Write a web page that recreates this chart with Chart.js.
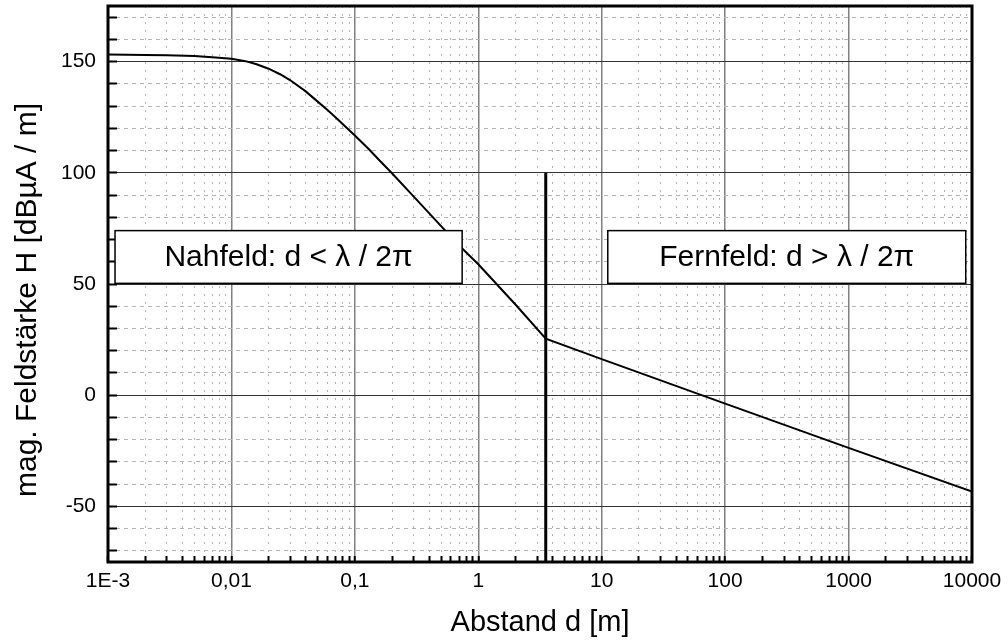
<!DOCTYPE html>
<html>
<head>
<meta charset="utf-8">
<script src="https://cdn.jsdelivr.net/npm/chart.js@4/dist/chart.umd.min.js"></script>
<style>
  body { margin: 0; background: #fff; }
  canvas { display: block; }
</style>
</head>
<body>
<canvas id="chart" width="1008" height="642"></canvas>
<script>
// values
const xTickValues = [0.001, 0.01, 0.1, 1, 10, 100, 1000, 10000];
const xTickLabels = ["1E-3", "0,01", "0,1", "1", "10", "100", "1000", "10000"];
const yTickLabels = [-50, 0, 50, 100, 150];

const distance = [0.001, 0.002, 0.003, 0.005, 0.007, 0.01, 0.013, 0.016, 0.02, 0.025, 0.03, 0.04,
  0.05, 0.06, 0.07, 0.08, 0.1, 0.13, 0.16, 0.2, 0.3, 0.5, 0.7, 1, 2, 3.52, 10, 100, 1000, 10000];
const fieldStrength = [153.2, 153.0, 152.8, 152.5, 152.0, 151.3, 150.2, 148.8, 146.8, 144.2, 141.6, 136.6,
  132.0, 128.2, 124.9, 121.8, 116.8, 110.6, 105.3, 99.8, 89.3, 76.0, 67.3, 58.9, 40.8, 25.4, 16.2, -3.8, -23.7, -43.3];

// near/far field boundary d = lambda / 2pi
const boundaryX = [3.52, 3.52];
const boundaryY = [-75, 100];

const zoneLabels = ["Nahfeld: d < \u03bb / 2\u03c0", "Fernfeld: d > \u03bb / 2\u03c0"];
const yTitle = "mag. Feldst\u00e4rke H [dB\u00b5A / m]";

const FONT = "'Liberation Sans', Arial, sans-serif";

// label boxes, in data units
const zoneBoxes = [
  { x0: 0.00114, x1: 0.74, y0: 50.3, y1: 74 },
  { x0: 11.2, x1: 8900, y0: 50.3, y1: 74 }
];

function isDecade(v) {
  const l = Math.log10(v);
  return Math.abs(l - Math.round(l)) < 1e-9;
}

const framePlugin = {
  id: "frame",
  afterDatasetsDraw(chart) {
    const { ctx, scales } = chart;
    ctx.save();
    zoneBoxes.forEach((b, i) => {
      const l = scales.x.getPixelForValue(b.x0);
      const r = scales.x.getPixelForValue(b.x1);
      const t = scales.y.getPixelForValue(b.y1);
      const btm = scales.y.getPixelForValue(b.y0);
      ctx.fillStyle = "#fff";
      ctx.fillRect(l, t, r - l, btm - t);
      ctx.strokeStyle = "#000";
      ctx.lineWidth = 1.5;
      ctx.strokeRect(l, t, r - l, btm - t);
      ctx.fillStyle = "#000";
      ctx.font = "30px " + FONT;
      ctx.textAlign = "center";
      ctx.textBaseline = "middle";
      ctx.fillText(zoneLabels[i], (l + r) / 2, (t + btm) / 2 + 1);
    });
    ctx.restore();
  },
  afterDraw(chart) {
    const { ctx, chartArea } = chart;
    ctx.save();
    ctx.strokeStyle = "#000";
    ctx.lineWidth = 3;
    ctx.strokeRect(chartArea.left, chartArea.top, chartArea.right - chartArea.left, chartArea.bottom - chartArea.top);
    // y axis title, sits a bit below the plot centre in the original
    ctx.translate(28, 300);
    ctx.rotate(-Math.PI / 2);
    ctx.fillStyle = "#000";
    ctx.font = "30px " + FONT;
    ctx.textAlign = "center";
    ctx.textBaseline = "middle";
    ctx.fillText(yTitle, 0, 0);
    ctx.restore();
  }
};

new Chart(document.getElementById("chart"), {
  type: "line",
  data: {
    datasets: [
      {
        data: distance.map((d, i) => ({ x: d, y: fieldStrength[i] })),
        borderColor: "#000",
        borderWidth: 2,
        pointRadius: 0,
        tension: 0
      },
      {
        data: boundaryX.map((d, i) => ({ x: d, y: boundaryY[i] })),
        borderColor: "#000",
        borderWidth: 3,
        pointRadius: 0
      }
    ]
  },
  options: {
    responsive: false,
    animation: false,
    layout: { padding: { top: 6, right: 36, left: 0, bottom: 0 } },
    plugins: { legend: { display: false }, tooltip: { enabled: false } },
    scales: {
      x: {
        type: "logarithmic",
        min: 0.001,
        max: 10000,
        afterBuildTicks(scale) {
          const ticks = [];
          xTickValues.forEach((dec, i) => {
            ticks.push({ value: dec });
            if (i < xTickValues.length - 1) {
              for (let m = 2; m <= 9; m++) ticks.push({ value: dec * m });
            }
          });
          scale.ticks = ticks;
        },
        afterFit(scale) {
          scale.height = 80;
          scale.paddingLeft = 0;
          scale.paddingRight = 0;
        },
        ticks: {
          autoSkip: false,
          maxRotation: 0,
          padding: 13,
          color: "#000",
          font: { family: FONT, size: 21 },
          callback(value) {
            if (!isDecade(value)) return "";
            const idx = xTickValues.findIndex(v => Math.abs(Math.log10(v) - Math.log10(value)) < 1e-9);
            return idx >= 0 ? xTickLabels[idx] : "";
          }
        },
        grid: {
          color: ctx => (ctx.tick && isDecade(ctx.tick.value)) ? "#808080" : "#b4b4b4",
          lineWidth: ctx => (ctx.tick && isDecade(ctx.tick.value)) ? 1.5 : 1,
          tickColor: "#000",
          tickLength: -6,
          tickWidth: 2,
          tickBorderDash: []
        },
        border: {
          display: false,
          dash: ctx => (ctx.tick && !isDecade(ctx.tick.value)) ? [2, 6] : []
        },
        title: {
          display: true,
          text: "Abstand d [m]",
          color: "#000",
          font: { family: FONT, size: 29 },
          padding: { top: 0, bottom: 2 }
        }
      },
      y: {
        type: "linear",
        min: -75,
        max: 175,
        afterBuildTicks(scale) {
          const ticks = [];
          for (let v = -70; v <= 170; v += 10) ticks.push({ value: v });
          scale.ticks = ticks;
        },
        afterFit(scale) {
          scale.width = 108;
          scale.paddingTop = 0;
          scale.paddingBottom = 0;
        },
        ticks: {
          autoSkip: false,
          padding: 21,
          color: "#000",
          font: { family: FONT, size: 21 },
          callback(value) {
            return yTickLabels.includes(value) ? String(value) : "";
          }
        },
        grid: {
          color: ctx => (ctx.tick && ctx.tick.value % 50 === 0) ? "#333" : "#b4b4b4",
          lineWidth: 1,
          tickColor: "#000",
          tickLength: -9,
          tickWidth: 2,
          tickBorderDash: []
        },
        border: {
          display: false,
          dash: ctx => (ctx.tick && ctx.tick.value % 50 !== 0) ? [4, 4] : []
        },
        title: { display: false }
      }
    }
  },
  plugins: [framePlugin]
});
</script>
</body>
</html>
